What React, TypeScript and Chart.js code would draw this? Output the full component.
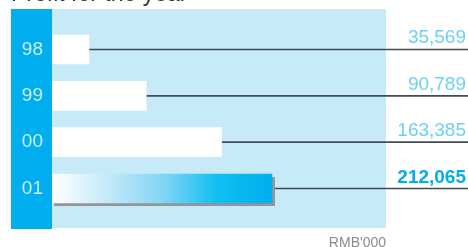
import React, { useEffect, useRef } from "react";
import { Chart, registerables } from "chart.js";

Chart.register(...registerables);

const years = ["98", "99", "00", "01"];
const profits = [35569, 90789, 163385, 212065];
const valueLabels = ["35,569", "90,789", "163,385", "212,065"];
const title = "Profit for the year";
const unitLabel = "RMB'000";

const FONT = "'Liberation Sans', Arial, Helvetica, sans-serif";

export default function App() {
  const ref = useRef<HTMLCanvasElement | null>(null);

  useEffect(() => {
    const canvas = ref.current;
    if (!canvas) return;

    const decor = {
      id: "decor",
      beforeDraw(chart: any) {
        const { ctx, chartArea } = chart;
        const yScale = chart.scales.y;
        ctx.save();
        ctx.fillStyle = "#ffffff";
        ctx.fillRect(0, 0, chart.width, chart.height);
        ctx.fillStyle = "#c7eaf9";
        ctx.fillRect(chartArea.left, chartArea.top, chartArea.right - chartArea.left, chartArea.bottom - chartArea.top - 1);
        ctx.fillStyle = "#00aeef";
        ctx.fillRect(yScale.left, chartArea.top, chartArea.left - yScale.left, chartArea.bottom - chartArea.top);
        ctx.restore();
      },
      beforeDatasetsDraw(chart: any) {
        const { ctx } = chart;
        const meta = chart.getDatasetMeta(0);
        ctx.save();
        meta.data.forEach((bar: any, i: number) => {
          const h = bar.height;
          const last = i === profits.length - 1;
          if (last) {
            ctx.fillStyle = "#939598";
            ctx.fillRect(bar.base + 2, bar.y - h / 2 + 3, bar.x - bar.base + 1, h);
          }
          ctx.strokeStyle = "#3f4c56";
          ctx.lineWidth = 1.6;
          ctx.beginPath();
          ctx.moveTo(bar.x + (last ? 3 : 0), bar.y);
          ctx.lineTo(chart.width, bar.y);
          ctx.stroke();
        });
        ctx.restore();
      },
      afterDraw(chart: any) {
        const { ctx, chartArea } = chart;
        const meta = chart.getDatasetMeta(0);
        ctx.save();
        ctx.textAlign = "right";
        ctx.textBaseline = "alphabetic";
        meta.data.forEach((bar: any, i: number) => {
          const last = i === profits.length - 1;
          ctx.font = `${last ? "bold " : ""}19px ${FONT}`;
          ctx.fillStyle = last ? "#00aeef" : "#6dcff6";
          ctx.fillText(valueLabels[i], chart.width - 2, bar.y - 6);
        });
        ctx.font = `14px ${FONT}`;
        ctx.fillStyle = "#8a8a8a";
        ctx.fillText(unitLabel, chartArea.right, chart.height - 0.5);
        ctx.textAlign = "left";
        ctx.font = `23px ${FONT}`;
        ctx.fillStyle = "#333333";
        ctx.fillText(title, 11, 0.5);
        ctx.restore();
      },
    };

    const chart = new Chart(canvas, {
      type: "bar",
      data: {
        datasets: [
          {
            data: profits.map((v, i) => ({ x: v, y: i })) as any,
            barThickness: 29,
            borderWidth: 0,
            backgroundColor: (c: any) => {
              const chartObj = c.chart;
              if (!chartObj.chartArea) return "#ffffff";
              if (c.dataIndex !== profits.length - 1) return "#ffffff";
              const xs = chartObj.scales.x;
              const x0 = xs.getPixelForValue(0);
              const x1 = xs.getPixelForValue(profits[profits.length - 1]);
              const g = chartObj.ctx.createLinearGradient(x0, 0, x1, 0);
              g.addColorStop(0, "#ffffff");
              g.addColorStop(0.3, "#b9e5f8");
              g.addColorStop(0.5, "#84d5f5");
              g.addColorStop(0.75, "#10bff2");
              g.addColorStop(1, "#00aeef");
              return g;
            },
          },
        ],
      },
      options: {
        indexAxis: "y",
        responsive: false,
        animation: false,
        events: [],
        layout: { padding: { left: 11, right: 82, top: 9, bottom: 18 } },
        plugins: {
          legend: { display: false },
          tooltip: { enabled: false },
          title: { display: false },
        },
        scales: {
          x: {
            type: "linear",
            min: 0,
            max: 322000,
            display: false,
          },
          y: {
            type: "linear",
            min: -0.874,
            max: 3.874,
            reverse: true,
            offset: false,
            grid: { display: false, drawTicks: false },
            border: { display: false },
            afterFit: (scale: any) => {
              scale.width = 41;
              scale.paddingTop = 0;
              scale.paddingBottom = 0;
            },
            ticks: {
              stepSize: 1,
              autoSkip: false,
              padding: 9,
              color: "#c8ecfb",
              font: { family: FONT, size: 19 },
              callback: (v: any) => (Number.isInteger(v) ? years[v] ?? "" : ""),
            },
          },
        },
      },
      plugins: [decor],
    } as any);

    return () => chart.destroy();
  }, []);

  return (
    <div style={{ position: "fixed", left: 0, top: 0, width: 468, height: 247 }}>
      <canvas ref={ref} width={468} height={247} style={{ display: "block", width: 468, height: 247 }} />
    </div>
  );
}
